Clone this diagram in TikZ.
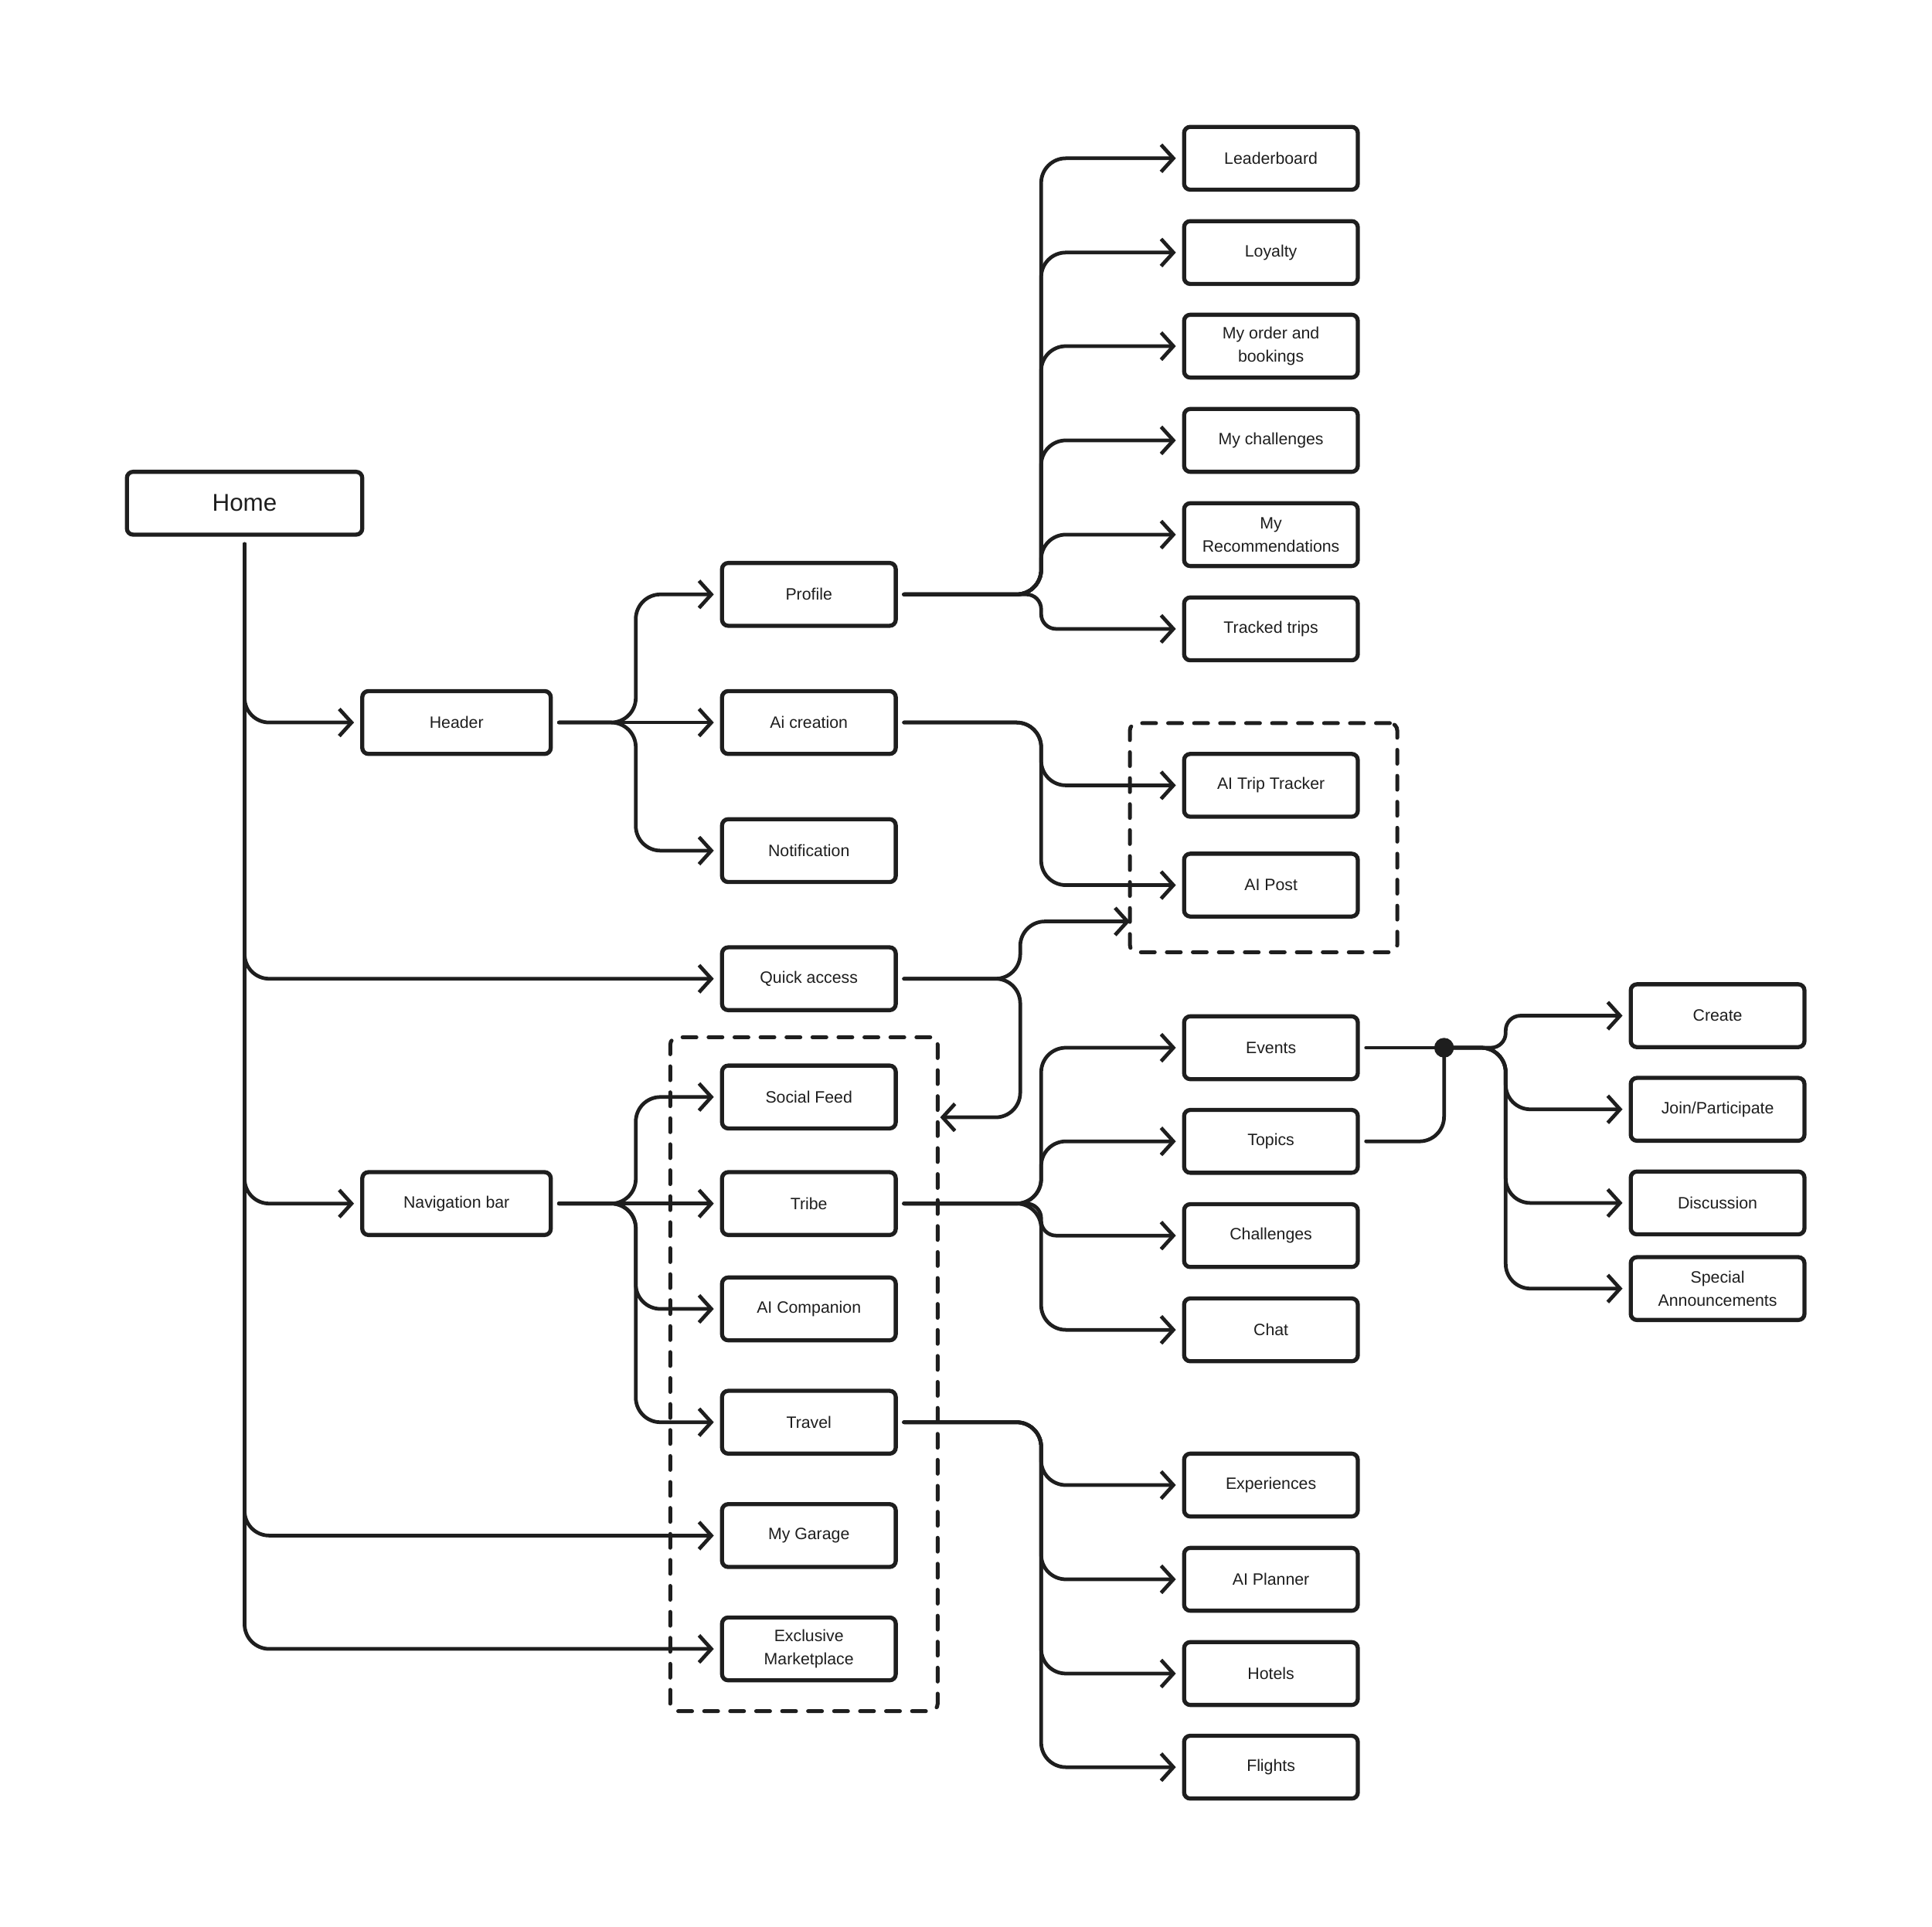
\documentclass[tikz,border=0pt]{standalone}
\usepackage{fontspec}
\setmainfont{Liberation Sans}
\usetikzlibrary{arrows.meta}
\definecolor{ink}{RGB}{30,30,30}
\begin{document}
\begin{tikzpicture}[x=0.1mm,y=-0.1mm,
  box/.style={draw=ink, fill=white, line width=0.95pt, rounded corners=0.5mm, minimum width=14.1mm, minimum height=5.1mm, inner sep=0pt, align=center, font=\fontsize{3.8}{5.4}\selectfont, text=ink},
  widebox/.style={box, minimum width=15.3mm},
  homebox/.style={box, minimum width=19.1mm, font=\fontsize{5.6}{6.5}\selectfont},
  grp/.style={draw=ink, line width=0.9pt, line cap=round, dash pattern=on 3.2pt off 2.8pt, rounded corners=0.6mm, inner sep=0pt},
  wire/.style={draw=ink, line width=0.85pt, rounded corners=2mm, line cap=round},
  link/.style={wire, -{Straight Barb[length=1.0mm,width=2.2mm,line width=0.85pt]}, shorten >=0.5mm, shorten <=0.5mm},
  tight/.style={rounded corners=1.2mm}]
\useasboundingbox (0,0) rectangle (1568,1564);

% dashed groups
\node[grp, minimum width=21.7mm, minimum height=18.6mm] (g1) at (1025.5,680) {};
\node[grp, minimum width=21.7mm, minimum height=54.7mm] (g2) at (652.5,1115.5) {};

% nodes
\node[homebox] (home) at (198.5,408.5) {Home};
\node[widebox] (header) at (370.5,586.5) {Header};
\node[widebox] (nav) at (370.5,977) {Navigation bar};

\node[box] (profile) at (656.5,482.5) {Profile};
\node[box] (aicr) at (656.5,586.5) {Ai creation};
\node[box] (notif) at (656.5,690.5) {Notification};
\node[box] (qa) at (656.5,794.5) {Quick access};
\node[box] (social) at (656.5,890.5) {Social Feed};
\node[box] (tribe) at (656.5,977) {Tribe};
\node[box] (aicomp) at (656.5,1062.5) {AI Companion};
\node[box] (travel) at (656.5,1154.5) {Travel};
\node[box] (garage) at (656.5,1246.5) {My Garage};
\node[box] (market) at (656.5,1338.5) {Exclusive\\Marketplace};

\node[box] (leader) at (1031.5,128.5) {Leaderboard};
\node[box] (loyalty) at (1031.5,205) {Loyalty};
\node[box] (orders) at (1031.5,281) {My order and\\bookings};
\node[box] (mych) at (1031.5,357.5) {My challenges};
\node[box] (myrec) at (1031.5,434) {My\\Recommendations};
\node[box] (tracked) at (1031.5,510.5) {Tracked trips};
\node[box] (aitt) at (1031.5,637.5) {AI Trip Tracker};
\node[box] (aipost) at (1031.5,718.5) {AI Post};
\node[box] (events) at (1031.5,850.5) {Events};
\node[box] (topics) at (1031.5,926.5) {Topics};
\node[box] (chall) at (1031.5,1003) {Challenges};
\node[box] (chat) at (1031.5,1079.5) {Chat};
\node[box] (exper) at (1031.5,1205.5) {Experiences};
\node[box] (planner) at (1031.5,1282) {AI Planner};
\node[box] (hotels) at (1031.5,1358.5) {Hotels};
\node[box] (flights) at (1031.5,1434.5) {Flights};

\node[box] (create) at (1394,824.5) {Create};
\node[box] (join) at (1394,900.5) {Join/Participate};
\node[box] (disc) at (1394,976.5) {Discussion};
\node[box] (special) at (1394,1046) {Special\\Announcements};

\node[circle, fill=ink, minimum size=1.6mm, inner sep=0pt] (dot) at (1172,850.5) {};

% junctions
\coordinate (hj) at (516,586.5);
\coordinate (nj) at (516,977);
\coordinate (pj) at (845,482.5);
\coordinate (aj) at (845,586.5);
\coordinate (qj) at (828,794.5);
\coordinate (tj) at (845,977);
\coordinate (vj) at (845,1154.5);
\coordinate (ej) at (1222,850.5);
\coordinate (g1in) at (917,748);
\coordinate (g2in) at (763,907);

% Home trunk
\draw[link, shorten <=0.6mm] (home.south) -- (home.south |- header) -- (header.west);
\draw[link, shorten <=0.6mm] (home.south) -- (home.south |- qa) -- (qa.west);
\draw[link, shorten <=0.6mm] (home.south) -- (home.south |- nav) -- (nav.west);
\draw[link, shorten <=0.6mm] (home.south) -- (home.south |- garage) -- (garage.west);
\draw[link, shorten <=0.6mm] (home.south) -- (home.south |- market) -- (market.west);

% Header fan
\draw[link] (header.east) -- (hj) |- (profile.west);
\draw[link] (header.east) -- (aicr.west);
\draw[link] (header.east) -- (hj) |- (notif.west);

% Profile fan
\draw[link] (profile.east) -- (pj) |- (leader.west);
\draw[link] (profile.east) -- (pj) |- (loyalty.west);
\draw[link] (profile.east) -- (pj) |- (orders.west);
\draw[link] (profile.east) -- (pj) |- (mych.west);
\draw[link] (profile.east) -- (pj) |- (myrec.west);
\draw[link, tight] (profile.east) -- (pj) |- (tracked.west);

% Ai creation
\draw[link] (aicr.east) -- (aj) |- (aitt.west);
\draw[link] (aicr.east) -- (aj) |- (aipost.west);

% Quick access
\draw[link, shorten >=0pt] (qa.east) -- (qj) |- (g1in);
\draw[link, shorten >=0pt] (qa.east) -- (qj) |- (g2in);

% Navigation bar fan
\draw[link] (nav.east) -- (nj) |- (social.west);
\draw[link] (nav.east) -- (tribe.west);
\draw[link] (nav.east) -- (nj) |- (aicomp.west);
\draw[link] (nav.east) -- (nj) |- (travel.west);

% Tribe fan
\draw[link] (tribe.east) -- (tj) |- (events.west);
\draw[link] (tribe.east) -- (tj) |- (topics.west);
\draw[link, tight] (tribe.east) -- (tj) |- (chall.west);
\draw[link] (tribe.east) -- (tj) |- (chat.west);

% Travel fan
\draw[link] (travel.east) -- (vj) |- (exper.west);
\draw[link] (travel.east) -- (vj) |- (planner.west);
\draw[link] (travel.east) -- (vj) |- (hotels.west);
\draw[link] (travel.east) -- (vj) |- (flights.west);

% Events / Topics to dot
\draw[wire, shorten <=0.5mm] (events.east) -- (dot.center);
\draw[wire, shorten <=0.5mm] (topics.east) -| (dot.center);

% Dot fan
\draw[link, tight, shorten <=0pt] (dot.center) -- (ej) |- (create.west);
\draw[link, shorten <=0pt] (dot.center) -- (ej) |- (join.west);
\draw[link, shorten <=0pt] (dot.center) -- (ej) |- (disc.west);
\draw[link, shorten <=0pt] (dot.center) -- (ej) |- (special.west);
\end{tikzpicture}
\end{document}
